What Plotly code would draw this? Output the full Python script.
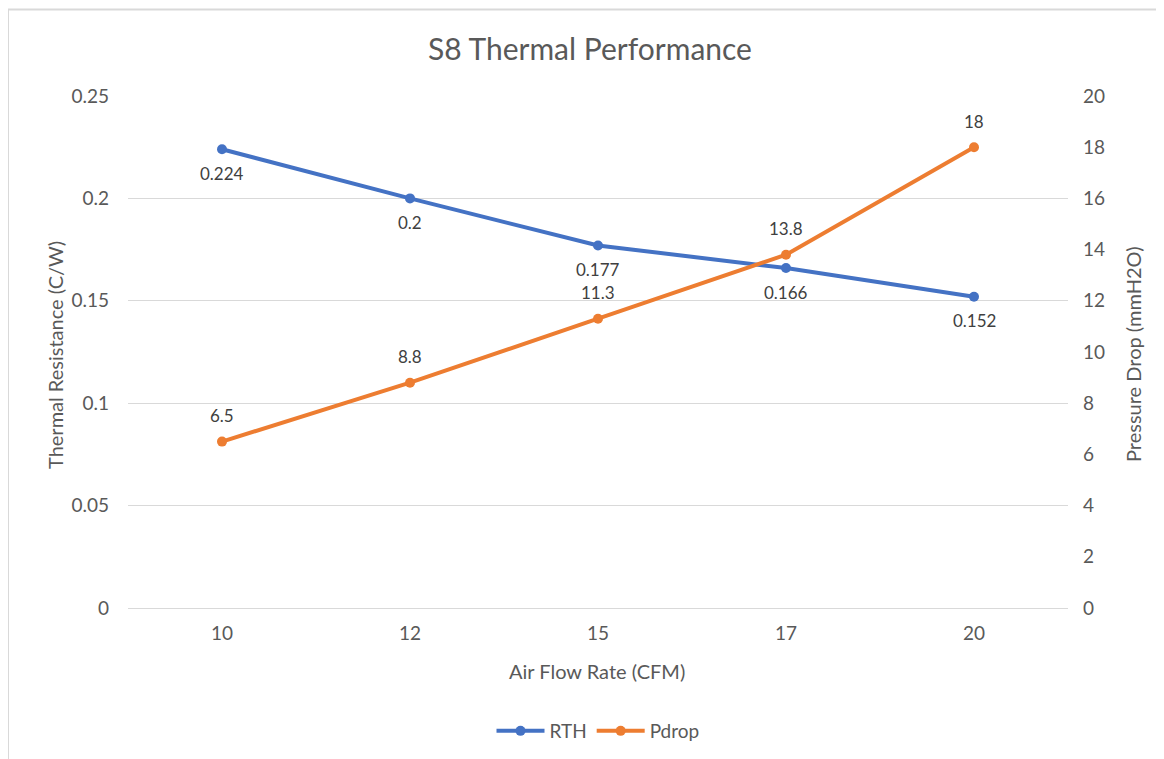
import plotly.graph_objects as go

categories = ["10", "12", "15", "17", "20"]
rth = [0.224, 0.2, 0.177, 0.166, 0.152]
pdrop = [6.5, 8.8, 11.3, 13.8, 18]
rth_labels = ["0.224", "0.2", "0.177", "0.166", "0.152"]
pdrop_labels = ["6.5", "8.8", "11.3", "13.8", "18"]
left_ticks = [0, 0.05, 0.1, 0.15, 0.2, 0.25]
left_ticktext = ["0", "0.05", "0.1", "0.15", "0.2", "0.25"]

FONT = "Lato"
GRAY = "#595959"
LABEL = "#404040"
BLUE = "#4472C4"
ORANGE = "#ED7D31"

fig = go.Figure()
fig.add_trace(go.Scatter(x=categories, y=rth, name="RTH", mode="lines+markers",
                         line=dict(color=BLUE, width=4), marker=dict(size=10, color=BLUE)))
fig.add_trace(go.Scatter(x=categories, y=pdrop, name="Pdrop", mode="lines+markers", yaxis="y2",
                         line=dict(color=ORANGE, width=4), marker=dict(size=10, color=ORANGE)))

# page body has an 8px margin, so the figure is drawn offset by 8px
OFF = 8
W, H = 1164, 759
PX0, PX1, PY0, PY1 = 128, 1068, 96, 608  # plot area in screen pixels
L = PX0 - OFF
T = PY0 - OFF
R = W + OFF - PX1
B = H + OFF - PY1
pw, ph = PX1 - PX0, PY1 - PY0


def px(sx):
    return (sx - PX0) / pw


def py(sy):
    return (PY1 - sy) / ph


annotations = []
for i, (v, t) in enumerate(zip(rth, rth_labels)):
    annotations.append(dict(x=i, y=v, xref="x", yref="y", text=t, showarrow=False,
                            xanchor="center", yanchor="middle",
                            yshift=-24, font=dict(family=FONT, size=17, color=LABEL)))
for i, (v, t) in enumerate(zip(pdrop, pdrop_labels)):
    annotations.append(dict(x=i, y=v, xref="x", yref="y2", text=t, showarrow=False,
                            xanchor="center", yanchor="middle",
                            yshift=26, font=dict(family=FONT, size=17, color=LABEL)))

annotations += [
    dict(text="Air Flow Rate (CFM)", xref="paper", yref="paper", x=px(597), y=py(671),
         xanchor="center", yanchor="middle",
         showarrow=False, font=dict(family=FONT, size=20, color=GRAY)),
    dict(text="Thermal Resistance (C/W)", xref="paper", yref="paper", x=px(55), y=py(355),
         xanchor="center", yanchor="middle",
         textangle=-90, showarrow=False, font=dict(family=FONT, size=20, color=GRAY)),
    dict(text="Pressure Drop (mmH2O)", xref="paper", yref="paper", x=px(1133), y=py(354),
         xanchor="center", yanchor="middle",
         textangle=-90, showarrow=False, font=dict(family=FONT, size=20, color=GRAY)),
]

fig.update_layout(
    width=W, height=H,
    margin=dict(l=L, r=R, t=T, b=B),
    paper_bgcolor="white", plot_bgcolor="white",
    font=dict(family=FONT, size=19, color=GRAY),
    title=dict(text="S8 Thermal Performance", x=0.5, xanchor="center", y=1 - (49 - OFF) / H, yanchor="middle",
               font=dict(family=FONT, size=30, color=GRAY)),
    xaxis=dict(type="category", range=[-0.5, 4.5], showgrid=False, showline=True,
               linecolor="#D9D9D9", linewidth=1, ticks="", ticklabelstandoff=8,
               tickfont=dict(size=19, color=GRAY)),
    yaxis=dict(range=[0, 0.25], tickvals=left_ticks, ticktext=left_ticktext, showgrid=True,
               gridcolor="#D9D9D9", gridwidth=1, zeroline=False, ticks="", ticklabelstandoff=18,
               tickfont=dict(size=19, color=GRAY)),
    yaxis2=dict(range=[0, 20], dtick=2, overlaying="y", side="right", showgrid=False, zeroline=False,
                ticks="", ticklabelstandoff=14, tickfont=dict(size=19, color=GRAY)),
    legend=dict(orientation="h", x=0.5, xanchor="center", y=py(731), yanchor="middle",
                font=dict(size=19, color=GRAY), tracegroupgap=0, itemwidth=48),
    annotations=annotations,
    shapes=[dict(type="rect", xref="paper", yref="paper",
                 x0=px(8), x1=px(W + 20), y0=py(H + 20), y1=py(9.5),
                 line=dict(color="#D9D9D9", width=2), fillcolor="rgba(0,0,0,0)", layer="below")],
)

fig.write_html("out.html")
